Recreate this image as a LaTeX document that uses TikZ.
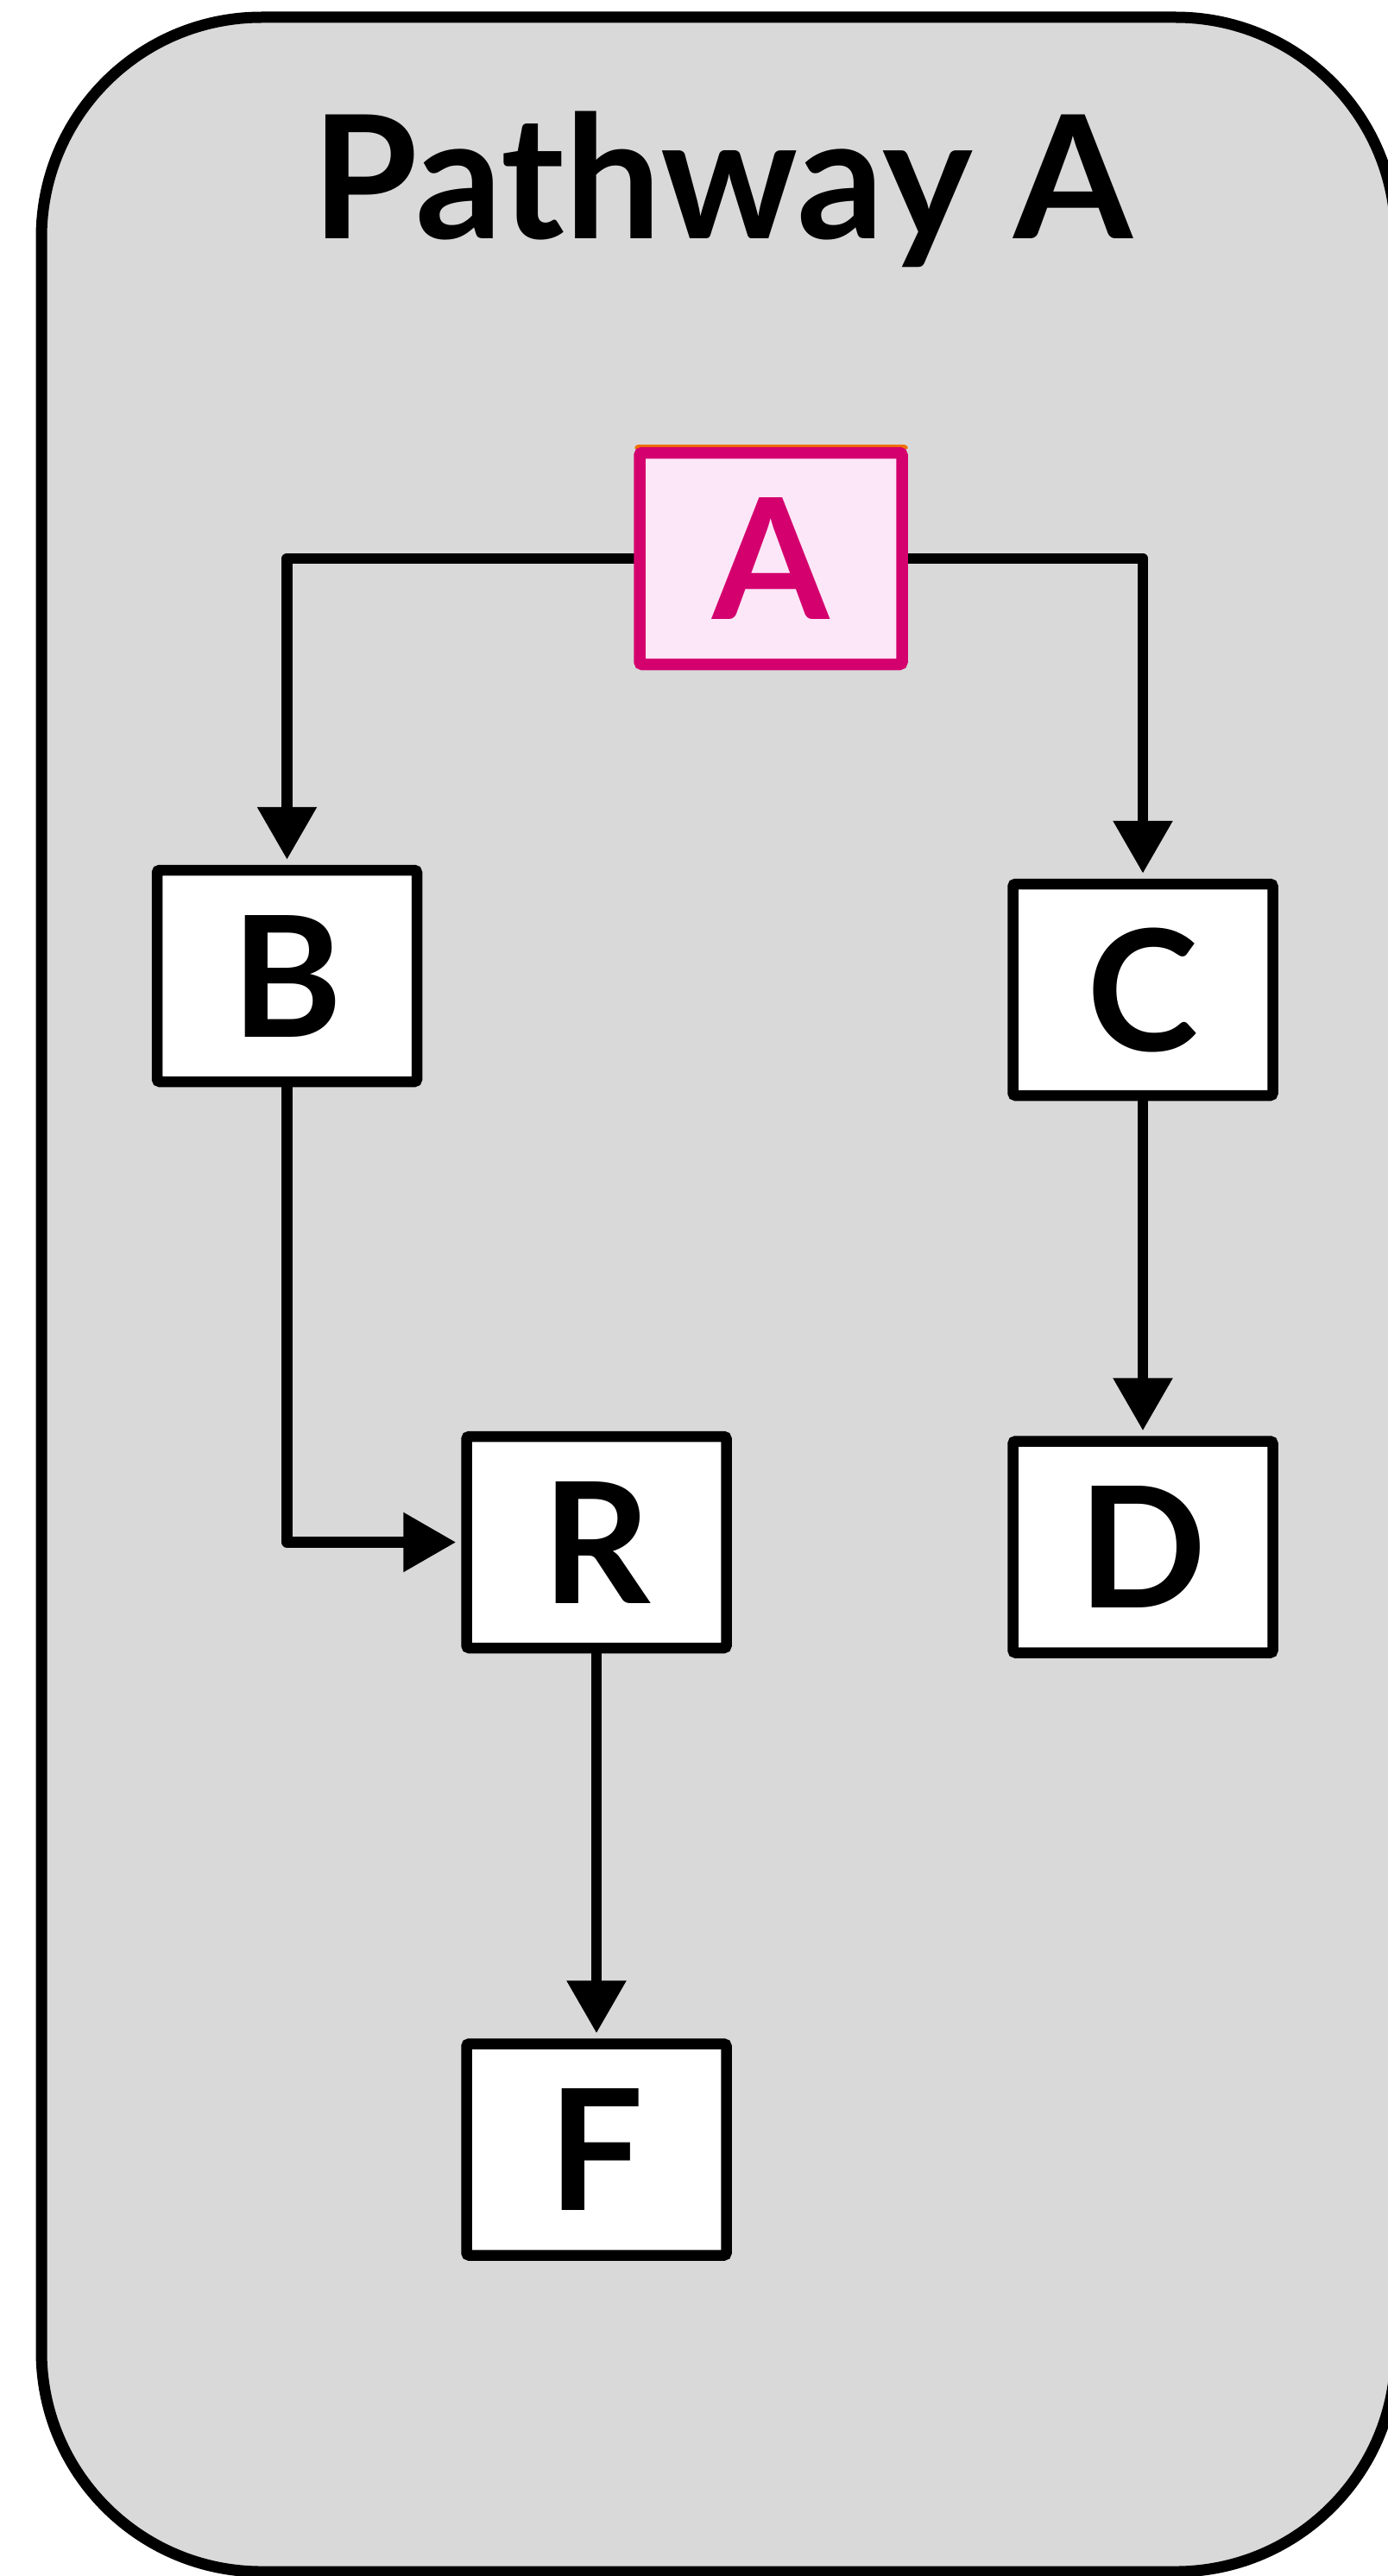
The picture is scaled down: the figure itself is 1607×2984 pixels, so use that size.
\documentclass[tikz,border=0pt]{standalone}
\usepackage{fontspec}
\setmainfont{Lato}
\usetikzlibrary{arrows.meta}
\definecolor{panelgray}{HTML}{D9D9D9}
\definecolor{hilite}{HTML}{D4006E}
\definecolor{hilitefill}{HTML}{FCE7F8}
\definecolor{hiliteedge}{HTML}{F07000}
\begin{document}
\begin{tikzpicture}[x=1pt,y=-1pt,
  box/.style={draw=black, fill=white, line width=12.5pt, rounded corners=3pt,
    minimum width=301pt, minimum height=245pt, inner sep=0pt,
    font=\fontsize{195}{200}\selectfont\bfseries},
  hibox/.style={box, draw=hilite, fill=hilitefill, text=hilite, line width=13.5pt,
    minimum width=304pt},
  conn/.style={line width=12.5pt, line join=round, shorten >=6pt,
    -{Triangle[length=61pt,width=66pt]}}
]
\useasboundingbox (0,0) rectangle (1607,2984);
\fill[white] (0,0) rectangle (1607,2984);
\draw[fill=panelgray, line width=13pt, rounded corners=255pt]
  (48,20) rectangle (1617,2979);
\node[anchor=base, inner sep=0pt, font=\fontsize{198.5}{200}\selectfont\bfseries]
  (title) at (837,276) {Pathway A};

\node[box] (B) at (332.5,1130.5) {B};
\node[box] (C) at (1324,1146.5) {C};
\node[box] (R) at (691,1786.5) {R};
\node[box] (D) at (1324,1792) {D};
\node[box] (F) at (691,2490) {F};
\coordinate (Ac) at (893,647);

\draw[conn] (Ac) -| (B.north);
\draw[conn] (Ac) -| (C.north);
\draw[conn] (B.south) |- (R.west);
\draw[conn] (C.south) -- (D.north);
\draw[conn] (R.south) -- (F.north);

\draw[hiliteedge, line width=4pt, rounded corners=3pt] (737,520) -- (737,517) -- (1050,517) -- (1050,520);
\node[hibox] (A) at (Ac) {A};
\end{tikzpicture}
\end{document}
